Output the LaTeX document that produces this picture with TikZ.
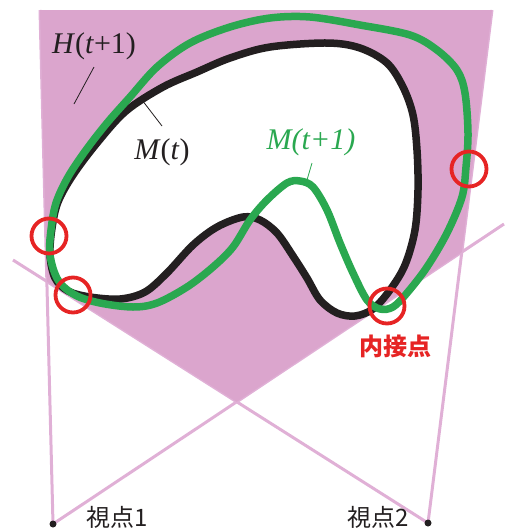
\documentclass[tikz,border=0pt]{standalone}
\usepackage{fontspec}
\newfontfamily\latinserif{Liberation Serif}
\newfontfamily\cjk{Noto Sans CJK JP}
\usetikzlibrary{calc}
\definecolor{hullpink}{RGB}{219,165,205}
\definecolor{rayink}{RGB}{224,176,214}
\definecolor{shapegreen}{RGB}{42,168,80}
\definecolor{markred}{RGB}{230,36,36}
\definecolor{inkblack}{RGB}{35,31,32}

\begin{document}
\begin{tikzpicture}[x=1pt, y=-1pt,
  every node/.style={inner sep=0pt},
  ray/.style={draw=rayink, line width=3pt},
  outline/.style={line width=7.5pt, line join=round},
  contact/.style={circle, draw=markred, line width=3.8pt, minimum size=35pt},
  leader/.style={line width=0.8pt},
  viewpt/.style={circle, fill=inkblack, minimum size=7pt},
  vlabel/.style={font=\cjk\fontsize{24}{26}\selectfont, text=inkblack, anchor=base},
  symlabel/.style={font=\latinserif\fontsize{30}{32}\selectfont, text=inkblack}
]
\useasboundingbox (0,0) rectangle (504,528);

% Viewpoints and the ends of their rays
\coordinate (v1) at (53,524);
\coordinate (v2) at (428,523);
\coordinate (v1left) at (40,10);
\coordinate (v1right) at (504,224);
\coordinate (v2left) at (13,260);
\coordinate (v2right) at (492,10);

% Rays
\draw[ray] (v1) -- (v1left);
\draw[ray] (v1) -- (v1right);
\draw[ray] (v2) -- (v2left);
\draw[ray] (v2) -- (v2right);

% Visual hull H(t+1)
\coordinate (qleft) at (intersection of v1--v1left and v2--v2left);
\coordinate (qbottom) at (intersection of v1--v1right and v2--v2left);
\coordinate (qright) at (intersection of v1--v1right and v2--v2right);
\fill[hullpink] (v1left) -- (qleft) -- (qbottom) -- (qright) -- (v2right) -- cycle;

% Model M(t)
\filldraw[fill=white, draw=inkblack, outline] plot[smooth cycle, tension=0.55] coordinates {
  (163,87) (197,72) (230,58) (270,47) (327,43) (360,48) (387,63) (403,87)
  (413,115) (417,150) (418,190) (415,230) (405,265) (390,290) (373,309)
  (355,316) (337,313) (320,300) (307,278) (293,256) (277,233) (260,220)
  (243,217) (217,227) (193,245) (167,273) (145,292) (120,299) (90,297)
  (68,291) (55,278) (50,255) (52,228) (58,202) (73,175) (97,143) (126,111)};

% Model M(t+1)
\draw[shapegreen, outline] plot[smooth cycle, tension=0.55] coordinates {
  (130,97) (157,67) (190,43) (230,27) (270,18) (310,17) (360,25) (410,35)
  (437,50) (457,70) (465,93) (468,133) (466,167) (462,197) (447,233)
  (427,267) (407,293) (393,307) (380,309) (367,300) (353,273) (340,243)
  (327,210) (313,187) (300,181) (287,183) (267,200) (250,220) (233,247)
  (213,267) (187,287) (157,303) (133,307) (100,303) (75,295) (58,280)
  (50,255) (51,230) (56,203) (68,177) (86,150) (107,123)};

% Contact points
\node[contact] (c1) at (49,236) {};
\node[contact] (c2) at (73,295) {};
\node[contact] (c3) at (387,306) {};
\node[contact] (c4) at (469,169) {};
\node[font=\cjk\bfseries\fontsize{24}{26}\selectfont, text=markred, anchor=base] (inner) at (395,355) {内接点};

% Labels
\node[symlabel] (hlab) at (94,46) {\textit{H}(\textit{t}+1)};
\coordinate (hlead1) at (94,67);
\coordinate (hlead2) at (74,104);
\draw[leader, inkblack] (hlead1) -- (hlead2);

\node[symlabel] (mlab) at (162,152) {\textit{M}(\textit{t})};
\coordinate (mlead1) at (162,126);
\coordinate (mlead2) at (142,100);
\draw[leader, inkblack] (mlead1) -- (mlead2);

\node[symlabel, text=shapegreen] (mnextlab) at (311,142) {\textit{M(t+1)}};
\coordinate (mnlead1) at (312,163);
\coordinate (mnlead2) at (307,180);
\draw[leader, shapegreen] (mnlead1) -- (mnlead2);

% Viewpoint dots
\node[viewpt] (dot1) at (v1) {};
\node[viewpt] (dot2) at (v2) {};
\node[vlabel] (vlab1) at (117,526) {視点1};
\node[vlabel] (vlab2) at (378,526) {視点2};

\end{tikzpicture}
\end{document}
